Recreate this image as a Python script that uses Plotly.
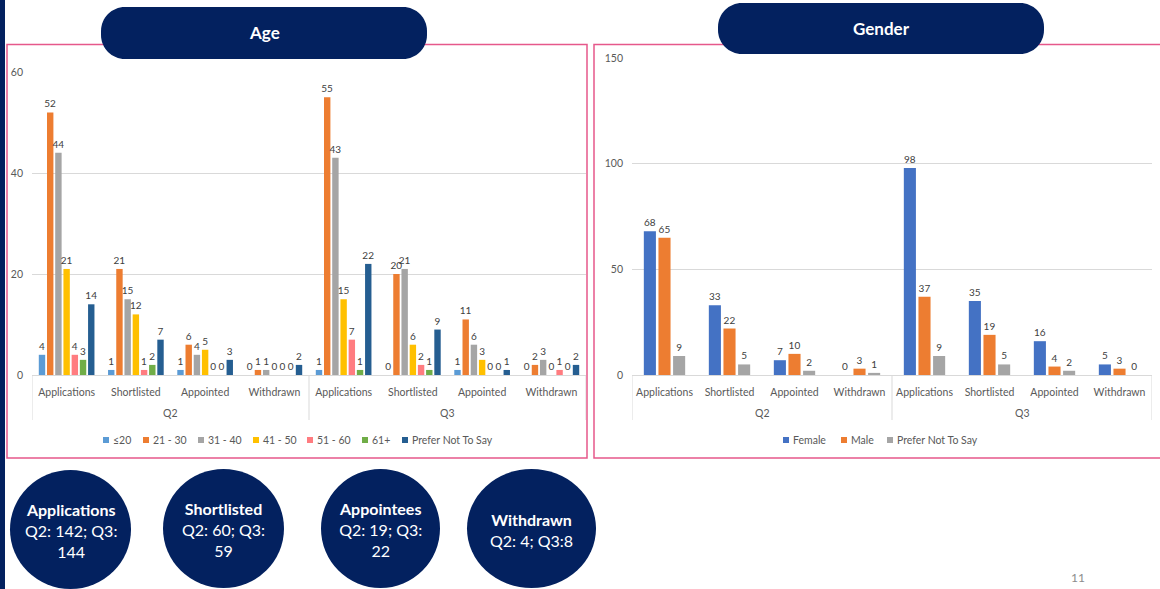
import plotly.graph_objects as go

W, H = 1160, 589

# ---- data ---------------------------------------------------------------
periods = ["Q2", "Q3"]
stages = ["Applications", "Shortlisted", "Appointed", "Withdrawn"]

age_groups = ["≤20", "21 - 30", "31 - 40", "41 - 50", "51 - 60", "61+", "Prefer Not To Say"]
# values ordered Q2 (Applications, Shortlisted, Appointed, Withdrawn), then Q3
age_le20 = [4, 1, 1, 0, 1, 0, 1, 0]
age_21_30 = [52, 21, 6, 1, 55, 20, 11, 2]
age_31_40 = [44, 15, 4, 1, 43, 21, 6, 3]
age_41_50 = [21, 12, 5, 0, 15, 6, 3, 0]
age_51_60 = [4, 1, 0, 0, 7, 2, 0, 1]
age_61_plus = [3, 2, 0, 0, 1, 1, 0, 0]
age_pnts = [14, 7, 3, 2, 22, 9, 1, 2]

genders = ["Female", "Male", "Prefer Not To Say"]
gender_female = [68, 33, 7, 0, 98, 35, 16, 5]
gender_male = [65, 22, 10, 3, 37, 19, 4, 3]
gender_pnts = [9, 5, 2, 1, 9, 5, 2, 0]

summary_titles = ["Applications", "Shortlisted", "Appointees", "Withdrawn"]
summary_lines = ["Q2: 142; Q3:<br>144", "Q2: 60; Q3:<br>59", "Q2: 19; Q3:<br>22", "Q2: 4; Q3:8"]

# ---- styling ------------------------------------------------------------
NAVY = "#03215F"
PINK = "#E6588B"
GRID = "#D9D9D9"
AXIS_TXT = "#595959"
LABEL_TXT = "#404040"
FONT = "Lato"

age_colors = ["#5B9BD5", "#ED7D31", "#A5A5A5", "#FFC000", "#FF7C80", "#70AD47", "#255E91"]
gender_colors = ["#4472C4", "#ED7D31", "#A5A5A5"]


def fx(px):
    return px / W


def fy(py):
    return 1 - py / H


# one slot per (period, stage) pair, labelled with the stage name
slot_pos = list(range(len(periods) * len(stages)))
slot_text = [s for _ in periods for s in stages]
period_centers = [i * len(stages) + (len(stages) - 1) / 2 for i in range(len(periods))]
divider_pos = [i * len(stages) - 0.5 for i in range(len(periods) + 1)]

fig = go.Figure()

age_series = [age_le20, age_21_30, age_31_40, age_41_50, age_51_60, age_61_plus, age_pnts]
for name, vals, col in zip(age_groups, age_series, age_colors):
    fig.add_trace(go.Bar(
        x=slot_pos, y=vals, name=name, text=[str(v) for v in vals],
        textposition="outside", textangle=0, constraintext="none", cliponaxis=False,
        textfont=dict(family=FONT, size=10, color=LABEL_TXT),
        marker=dict(color=col, line=dict(width=0)),
        xaxis="x", yaxis="y", showlegend=False, hoverinfo="skip",
    ))

gender_series = [gender_female, gender_male, gender_pnts]
gender_offsets = [-0.318, -0.093, 0.132]
for name, vals, col, off in zip(genders, gender_series, gender_colors, gender_offsets):
    fig.add_trace(go.Bar(
        x=slot_pos, y=vals, name=name, text=[str(v) for v in vals],
        textposition="outside", textangle=0, constraintext="none", cliponaxis=False,
        textfont=dict(family=FONT, size=10, color=LABEL_TXT),
        marker=dict(color=col, line=dict(width=0)),
        width=0.186, offset=off,
        xaxis="x2", yaxis="y2", showlegend=False, hoverinfo="skip",
    ))

xaxis_common = dict(
    range=[-0.5, len(slot_pos) - 0.5], tickmode="array", tickvals=slot_pos, ticktext=slot_text,
    showline=True, linecolor=GRID, linewidth=1, ticks="",
    showgrid=False, zeroline=False, tickangle=0, automargin=False,
    ticklabelstandoff=7,
    tickfont=dict(family=FONT, size=10.5, color=AXIS_TXT),
)
yaxis_common = dict(
    showgrid=True, gridcolor=GRID, gridwidth=1, zeroline=False, showline=False,
    ticks="", ticklabelstandoff=8, automargin=False,
    tickfont=dict(family=FONT, size=10.5, color=AXIS_TXT),
)

fig.update_layout(
    width=W, height=H, margin=dict(l=0, r=0, t=0, b=0, pad=0, autoexpand=False),
    paper_bgcolor="white", plot_bgcolor="rgba(0,0,0,0)",
    barmode="group", bargap=0.17, bargroupgap=0.22, showlegend=False,
    xaxis=dict(domain=[fx(32), fx(586)], anchor="y", **xaxis_common),
    yaxis=dict(domain=[fy(375), fy(72)], anchor="x", range=[0, 60], dtick=20, **yaxis_common),
    xaxis2=dict(domain=[fx(632), fx(1152)], anchor="y2", **xaxis_common),
    yaxis2=dict(domain=[fy(375), fy(58)], anchor="x2", range=[0, 150], dtick=50, **yaxis_common),
    font=dict(family=FONT),
)

shapes = []
annotations = []

# left navy stripe
shapes.append(dict(type="rect", xref="paper", yref="paper", x0=fx(0), x1=fx(5), y0=0, y1=1,
                   fillcolor=NAVY, line=dict(width=0), layer="below"))

# panel frames
shapes.append(dict(type="rect", xref="paper", yref="paper", x0=fx(7), x1=fx(587), y0=fy(458), y1=fy(44.5),
                   line=dict(color=PINK, width=1.5), layer="below"))
shapes.append(dict(type="rect", xref="paper", yref="paper", x0=fx(594), x1=fx(1170), y0=fy(458), y1=fy(44.5),
                   line=dict(color=PINK, width=1.5), layer="below"))

# period dividers and period labels under the stage labels
for xr in ["x", "x2"]:
    for d in divider_pos:
        shapes.append(dict(type="line", xref=xr, yref="paper", x0=d, x1=d, y0=fy(420), y1=fy(375),
                           line=dict(color=GRID, width=1)))
    for c, p in zip(period_centers, periods):
        annotations.append(dict(xref=xr, yref="paper", x=c, y=fy(413), text=p, showarrow=False,
                                xanchor="center", yanchor="middle",
                                font=dict(family=FONT, size=10.5, color=AXIS_TXT)))


def pill_path(x0, y0, x1, y1, r):
    k = 0.5523 * r
    pts = [
        ("M", [(x0 + r, y0)]),
        ("L", [(x1 - r, y0)]),
        ("C", [(x1 - r + k, y0), (x1, y0 + r - k), (x1, y0 + r)]),
        ("L", [(x1, y1 - r)]),
        ("C", [(x1, y1 - r + k), (x1 - r + k, y1), (x1 - r, y1)]),
        ("L", [(x0 + r, y1)]),
        ("C", [(x0 + r - k, y1), (x0, y1 - r + k), (x0, y1 - r)]),
        ("L", [(x0, y0 + r)]),
        ("C", [(x0, y0 + r - k), (x0 + r - k, y0), (x0 + r, y0)]),
    ]
    out = ""
    for cmd, ps in pts:
        out += cmd + " ".join(f"{fx(a):.5f},{fy(b):.5f}" for a, b in ps) + " "
    return out + "Z"


# section title pills
for (x0, y0, x1, y1), title in [((101, 7, 427, 59), "Age"), ((718, 3, 1044, 54), "Gender")]:
    shapes.append(dict(type="path", xref="paper", yref="paper", path=pill_path(x0, y0, x1, y1, 24),
                       fillcolor=NAVY, line=dict(width=0), layer="above"))
    annotations.append(dict(xref="paper", yref="paper", x=fx((x0 + x1) / 2), y=fy((y0 + y1) / 2),
                            text=f"<b>{title}</b>", showarrow=False, xanchor="center", yanchor="middle",
                            font=dict(family=FONT, size=17, color="white")))

# hand-placed legends
def add_legend(names, colors, lefts, ycenter):
    for name, col, left in zip(names, colors, lefts):
        shapes.append(dict(type="rect", xref="paper", yref="paper",
                           x0=fx(left), x1=fx(left + 6), y0=fy(ycenter + 3), y1=fy(ycenter - 3),
                           fillcolor=col, line=dict(width=0)))
        annotations.append(dict(xref="paper", yref="paper", x=fx(left + 8), y=fy(ycenter),
                                text=name, showarrow=False, xanchor="left", yanchor="middle",
                                font=dict(family=FONT, size=10.5, color=AXIS_TXT)))


add_legend(age_groups, age_colors, [103, 143, 198, 253, 307, 362, 402], 440)
add_legend(genders, gender_colors, [783, 841, 887], 440)

# summary circles
circle_boxes = [(10, 470, 131, 589), (163, 469, 284, 588), (321, 469, 440, 588), (467, 469, 596, 588)]
for (x0, y0, x1, y1), title, line in zip(circle_boxes, summary_titles, summary_lines):
    shapes.append(dict(type="circle", xref="paper", yref="paper",
                       x0=fx(x0), x1=fx(x1), y0=fy(y1), y1=fy(y0),
                       fillcolor=NAVY, line=dict(width=0), layer="above"))
    annotations.append(dict(xref="paper", yref="paper", x=fx((x0 + x1) / 2), y=fy((y0 + y1) / 2 + 1),
                            text=f"<b>{title}</b><br>{line}", showarrow=False,
                            xanchor="center", yanchor="middle", align="center",
                            font=dict(family=FONT, size=16, color="white")))

# page number
annotations.append(dict(xref="paper", yref="paper", x=fx(1078), y=fy(577), text="11", showarrow=False,
                        xanchor="center", yanchor="middle", font=dict(family=FONT, size=12, color="#8C8C8C")))

fig.update_layout(shapes=shapes, annotations=annotations)

fig.write_html("out.html")
